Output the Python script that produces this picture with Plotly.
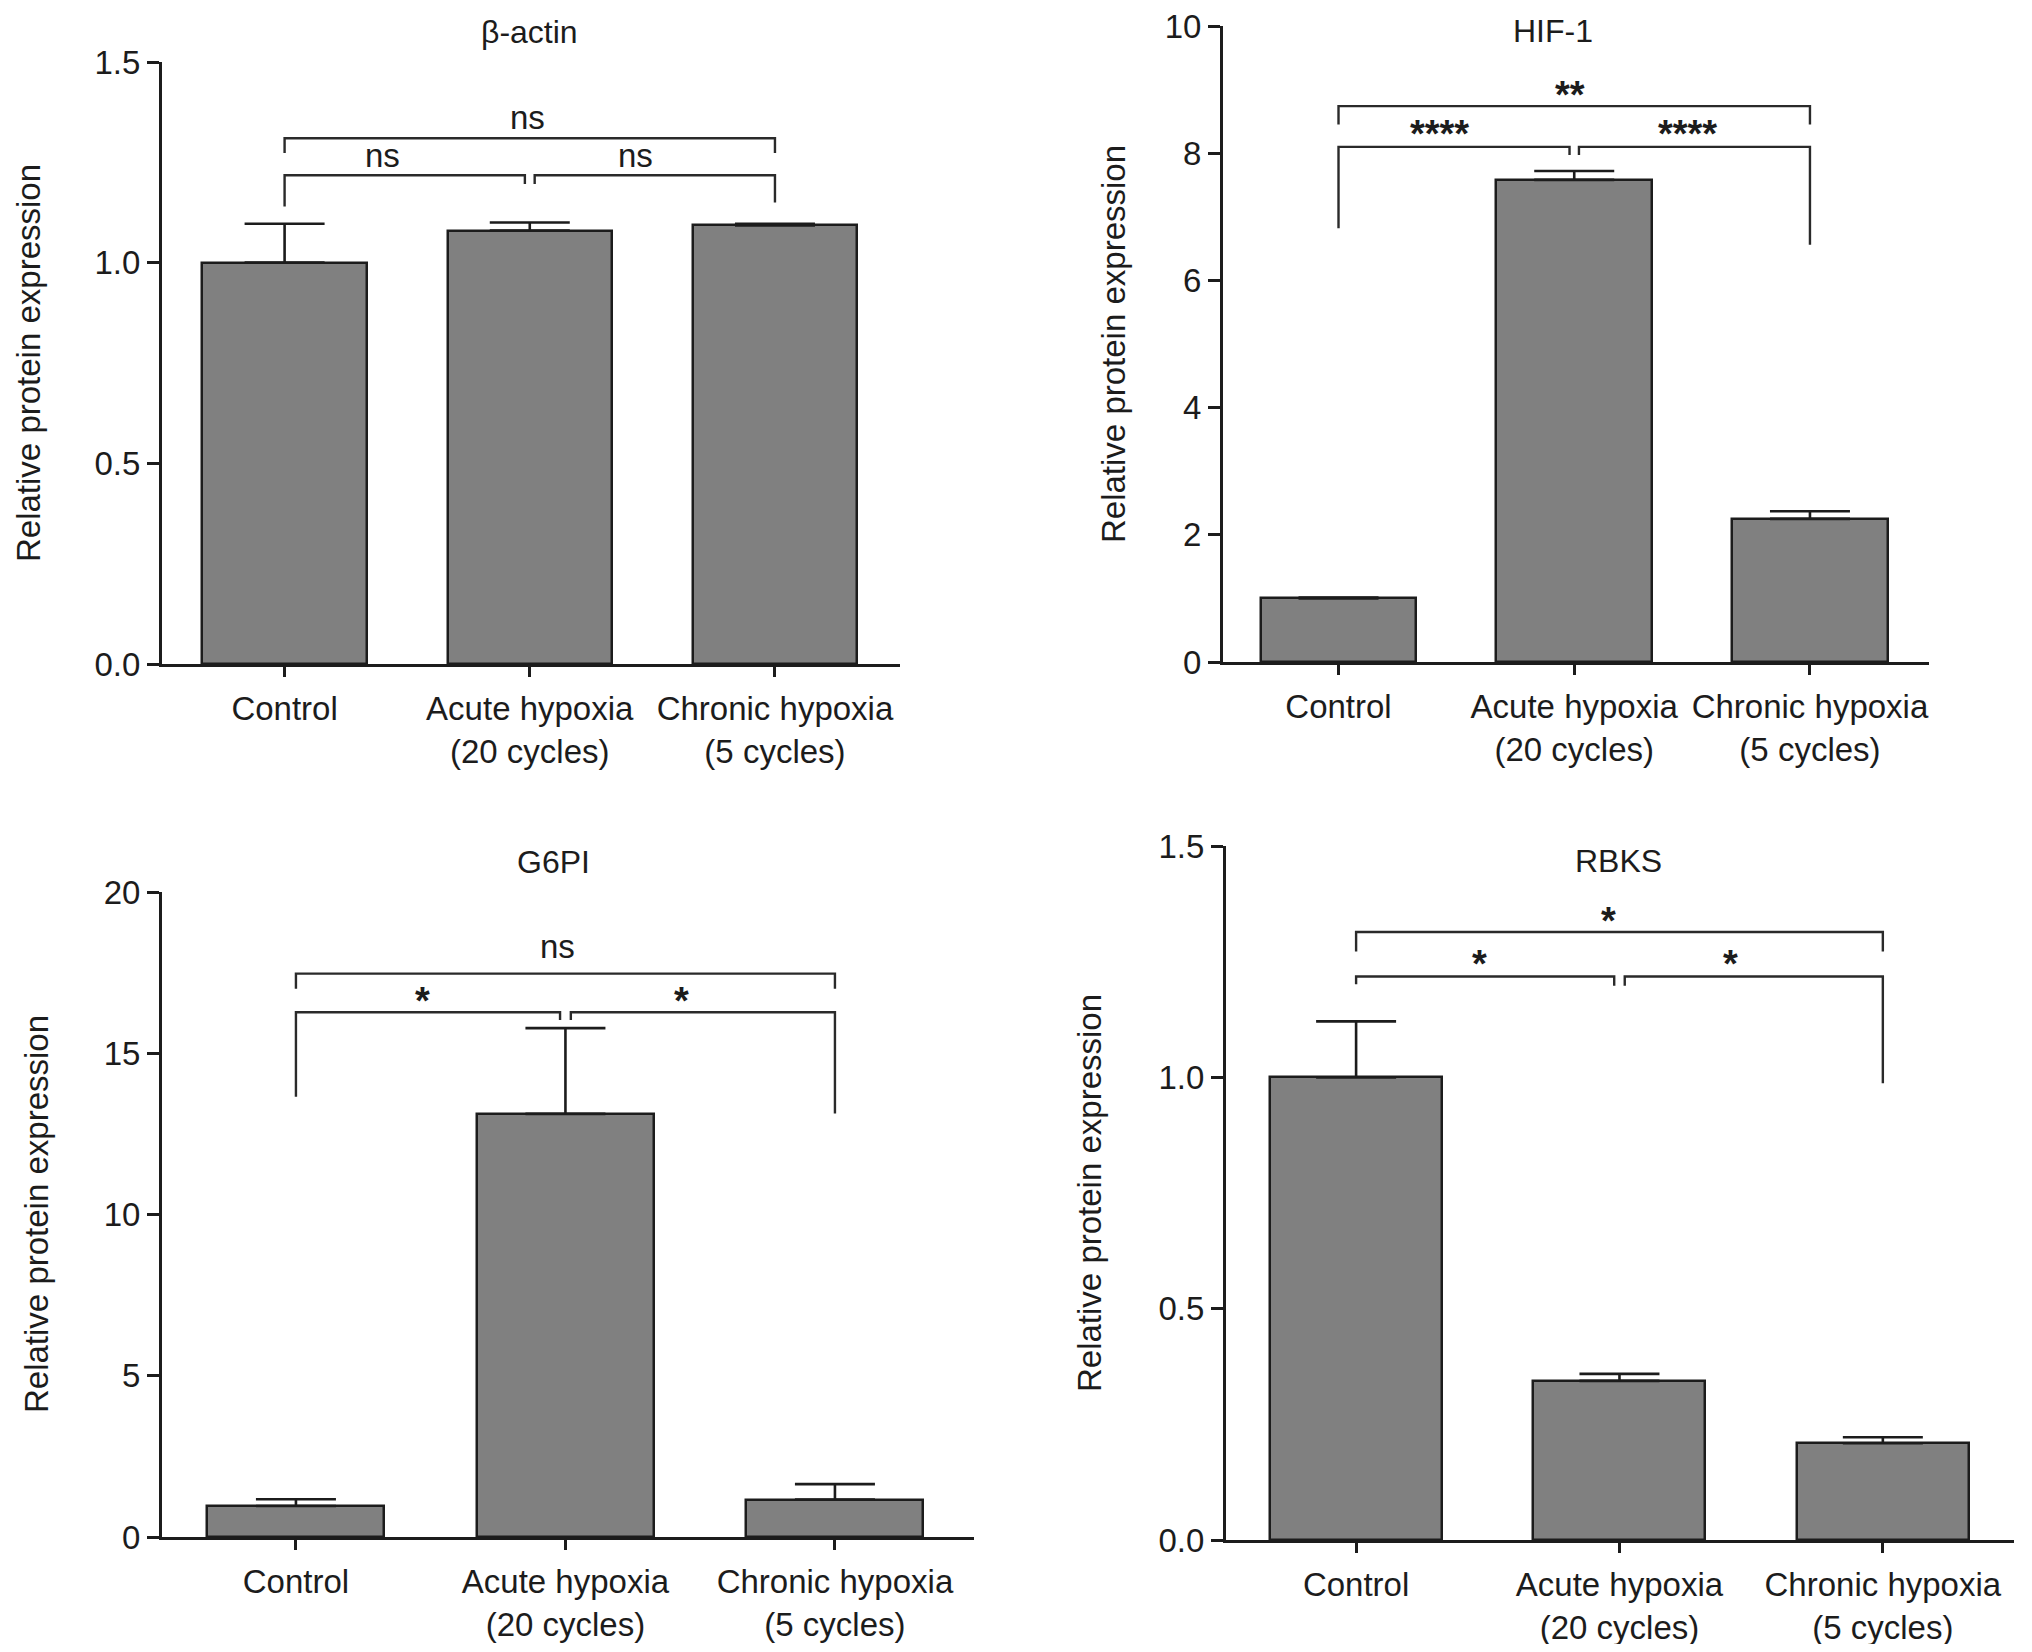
import plotly.graph_objects as go

W, H = 2032, 1652          # browser viewport
PAGE_MARGIN = 8            # default <body> margin of the html page
FW, FH = W - 2 * PAGE_MARGIN, H - 2 * PAGE_MARGIN

# ---------------- data ----------------
categories = ["Control", "Acute hypoxia<br>(20 cycles)", "Chronic hypoxia<br>(5 cycles)"]
cat_pos = [0, 1, 2]
panel_titles = ["β-actin", "HIF-1", "G6PI", "RBKS"]
y_axis_title = "Relative protein expression"

actin_mean = [1.00, 1.08, 1.093]
actin_err = [0.097, 0.02, 0.004]
hif_mean = [1.00, 7.58, 2.25]
hif_err = [0.012, 0.14, 0.12]
g6pi_mean = [0.96, 13.12, 1.16]
g6pi_err = [0.21, 2.66, 0.48]
rbks_mean = [1.00, 0.344, 0.209]
rbks_err = [0.121, 0.015, 0.013]

actin_ticks = [0.0, 0.5, 1.0, 1.5]
hif_ticks = [0, 2, 4, 6, 8, 10]
g6pi_ticks = [0, 5, 10, 15, 20]
rbks_ticks = [0.0, 0.5, 1.0, 1.5]

# significance brackets: (left group, right group, bar level, left tip, right tip)
actin_sig = [(0, 2, 1.310, 1.273, 1.273), (0, 1, 1.218, 1.140, 1.196), (1, 2, 1.218, 1.196, 1.150)]
actin_sig_text = ["ns", "ns", "ns"]
actin_sig_lab = [(0.99, 1.362), (0.40, 1.268), (1.43, 1.268)]

hif_sig = [(0, 2, 8.74, 8.45, 8.45), (0, 1, 8.10, 6.82, 7.97), (1, 2, 8.10, 7.97, 6.56)]
hif_sig_text = ["**", "****", "****"]
hif_sig_lab = [(0.98, 8.98), (0.43, 8.36), (1.48, 8.36)]

g6pi_sig = [(0, 2, 17.47, 17.00, 17.00), (0, 1, 16.27, 13.65, 16.03), (1, 2, 16.27, 16.03, 13.13)]
g6pi_sig_text = ["ns", "*", "*"]
g6pi_sig_lab = [(0.97, 18.30), (0.47, 16.75), (1.43, 16.75)]

rbks_sig = [(0, 2, 1.314, 1.272, 1.272), (0, 1, 1.218, 1.201, 1.198), (1, 2, 1.218, 1.198, 0.987)]
rbks_sig_text = ["*", "*", "*"]
rbks_sig_lab = [(0.96, 1.347), (0.47, 1.253), (1.42, 1.253)]


def px_x(px):
    return (px - PAGE_MARGIN) / FW


def px_y(py):
    return 1 - (py - PAGE_MARGIN) / FH


# ---------------- layout (page pixel positions) ----------------
panels = [
    dict(mean=actin_mean, err=actin_err, ticks=actin_ticks, fmt=".1f", yr=[0, 1.5],
         xr=[-0.50, 2.51], xpx=(162, 900), ypx=(62, 664), bw=0.67,
         sig=actin_sig, sig_text=actin_sig_text, sig_lab=actin_sig_lab,
         title_px=(529, 32), ytitle_px=(28, 363)),
    dict(mean=hif_mean, err=hif_err, ticks=hif_ticks, fmt="d", yr=[0, 10],
         xr=[-0.49, 2.505], xpx=(1223, 1929), ypx=(26, 662), bw=0.66,
         sig=hif_sig, sig_text=hif_sig_text, sig_lab=hif_sig_lab,
         title_px=(1553, 31), ytitle_px=(1113, 344)),
    dict(mean=g6pi_mean, err=g6pi_err, ticks=g6pi_ticks, fmt="d", yr=[0, 20],
         xr=[-0.497, 2.516], xpx=(162, 974), ypx=(892, 1537), bw=0.657,
         sig=g6pi_sig, sig_text=g6pi_sig_text, sig_lab=g6pi_sig_lab,
         title_px=(553, 862), ytitle_px=(36, 1214)),
    dict(mean=rbks_mean, err=rbks_err, ticks=rbks_ticks, fmt=".1f", yr=[0, 1.5],
         xr=[-0.494, 2.498], xpx=(1226, 2014), ypx=(846, 1540), bw=0.653,
         sig=rbks_sig, sig_text=rbks_sig_text, sig_lab=rbks_sig_lab,
         title_px=(1618, 861), ytitle_px=(1089, 1193)),
]

FONT = "Liberation Sans, Arial, Helvetica, sans-serif"
INK = "#1c1c1c"
GAP = 0.02

fig = go.Figure()
annotations = []
layout_axes = {}

for i, p in enumerate(panels):
    n = i + 1
    xa = "x" if n == 1 else f"x{n}"
    ya = "y" if n == 1 else f"y{n}"
    # bars with one-sided error bars
    fig.add_trace(go.Bar(
        x=cat_pos, y=p["mean"], width=p["bw"], xaxis=xa, yaxis=ya,
        marker=dict(color="#808080", line=dict(color=INK, width=2.5)),
        error_y=dict(type="data", symmetric=False, array=p["err"],
                     arrayminus=[0] * len(p["err"]), color=INK, thickness=2.6, width=40),
        showlegend=False, hoverinfo="skip",
    ))
    # brackets
    for (a, b, lvl, tl, tr) in p["sig"]:
        xl = a + (GAP if (a == 1 and b == 2) else 0)
        xr = b - (GAP if (a == 0 and b == 1) else 0)
        fig.add_trace(go.Scatter(
            x=[xl, xl, xr, xr], y=[tl, lvl, lvl, tr], mode="lines", xaxis=xa, yaxis=ya,
            line=dict(color="#2a2a2a", width=2.4), showlegend=False, hoverinfo="skip",
            cliponaxis=False,
        ))
    for txt, (lx, ly) in zip(p["sig_text"], p["sig_lab"]):
        is_star = "*" in txt
        annotations.append(dict(
            x=lx, y=ly, xref=xa, yref=ya,
            text=(f"<b>{txt}</b>" if is_star else txt), showarrow=False,
            xanchor="center", yanchor="middle", yshift=(-4 if is_star else 0),
            font=dict(family=FONT, size=(38 if is_star else 33), color=INK),
        ))
    # titles
    tx, ty = p["title_px"]
    annotations.append(dict(x=px_x(tx), y=px_y(ty), xref="paper", yref="paper",
                            text=panel_titles[i], showarrow=False, xanchor="center",
                            yanchor="middle", font=dict(family=FONT, size=32, color=INK)))
    yx, yy = p["ytitle_px"]
    annotations.append(dict(x=px_x(yx), y=px_y(yy), xref="paper", yref="paper",
                            text=y_axis_title, showarrow=False, textangle=-90,
                            xanchor="center", yanchor="middle",
                            font=dict(family=FONT, size=33, color=INK)))

    x0, x1 = p["xpx"]
    y0, y1 = p["ypx"]
    key_x = "xaxis" if n == 1 else f"xaxis{n}"
    key_y = "yaxis" if n == 1 else f"yaxis{n}"
    layout_axes[key_x] = dict(
        domain=[px_x(x0), px_x(x1)], anchor=ya, range=p["xr"], tickmode="array",
        tickvals=cat_pos, ticktext=categories, showline=True, linewidth=3, linecolor=INK,
        ticks="outside", ticklen=10, tickwidth=3, tickcolor=INK, showgrid=False,
        zeroline=False, tickfont=dict(family=FONT, size=33, color=INK), fixedrange=True,
        automargin=False, ticklabelstandoff=3, ticklabeloverflow="allow",
    )
    layout_axes[key_y] = dict(
        domain=[px_y(y1), px_y(y0)], anchor=xa, range=p["yr"], tickmode="array",
        tickvals=p["ticks"], tickformat=p["fmt"], showline=True, linewidth=3,
        linecolor=INK, ticks="outside", ticklen=12, tickwidth=3, tickcolor=INK,
        showgrid=False, zeroline=False, tickfont=dict(family=FONT, size=33, color=INK),
        fixedrange=True, automargin=False, ticklabeloverflow="allow",
    )

fig.update_layout(
    width=FW, height=FH, margin=dict(l=0, r=0, t=0, b=0, pad=0, autoexpand=False),
    paper_bgcolor="white", plot_bgcolor="white", bargap=0,
    annotations=annotations, **layout_axes,
)

fig.write_html("out.html")
